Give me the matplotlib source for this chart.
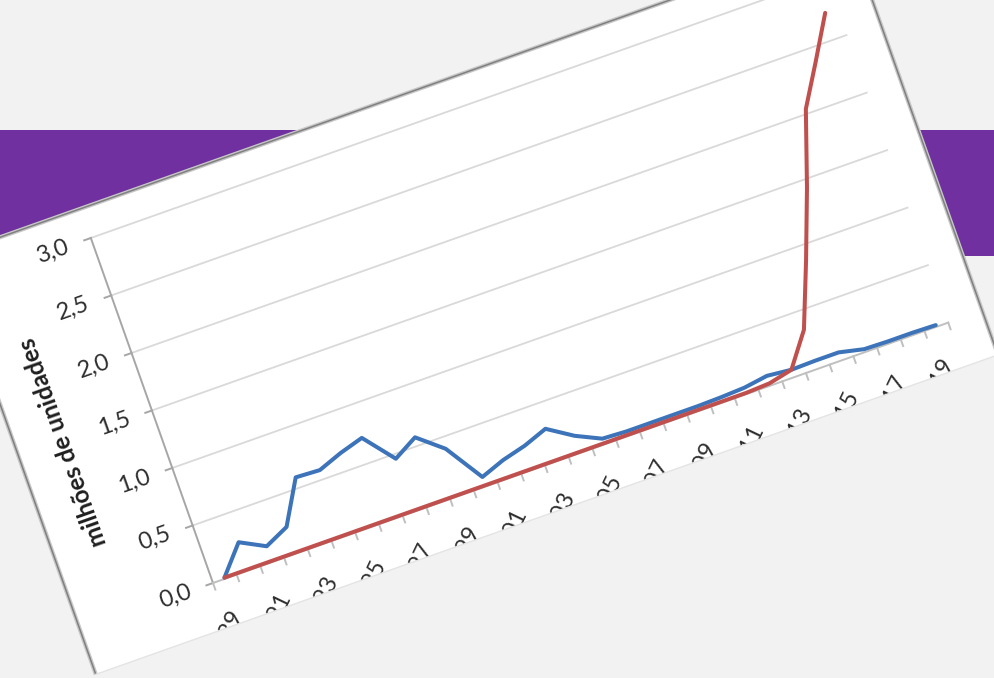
"""
Rotated line chart on a slide: 'milhões de unidades', 1989-2019.

The chart panel is tilted ~19.5 deg on the slide, so everything is drawn
in the chart frame and pushed through one Affine2D onto a pixel axes.
Output: out.png (994x678)
"""
import matplotlib

matplotlib.use("Agg")
import matplotlib.pyplot as plt
import numpy as np
from matplotlib.patches import Polygon, Rectangle
from matplotlib.transforms import Affine2D

plt.rcParams["font.family"] = ["Lato", "DejaVu Sans"]

# --------------------------------------------------------------------------- #
# Data (chart frame)
# --------------------------------------------------------------------------- #
years = list(range(1989, 2020))
blue = [0.01, 0.245, 0.137, 0.232, 0.59, 0.58, 0.655, 0.714, 0.46, 0.573,
        0.40, 0.082, 0.156, 0.208, 0.282, 0.148, 0.05, 0.04, 0.04, 0.04,
        0.04, 0.045, 0.055, 0.085, 0.065, 0.07, 0.07, 0.025, 0.02, 0.02,
        0.015]
red = [0.01, 0.01, 0.01, 0.01, 0.01, 0.01, 0.01, 0.01, 0.01, 0.01,
       0.01, 0.01, 0.01, 0.01, 0.01, 0.01, 0.01, 0.01, 0.01, 0.01,
       0.01, 0.01, 0.01, 0.02, 0.065, 0.34, 0.87, 1.43, 2.04, 2.38,
       2.73]
y_ticks = [0.0, 0.5, 1.0, 1.5, 2.0, 2.5, 3.0]
y_tick_labels = ["0,0", "0,5", "1,0", "1,5", "2,0", "2,5", "3,0"]
y_title = "milhões de unidades"

# --------------------------------------------------------------------------- #
# Geometry of the tilted panel (pixels)
# --------------------------------------------------------------------------- #
W, H = 994, 678
OX, OY = 213, 583          # where the two axes meet
THETA = 19.5               # tilt of the chart, degrees ccw
CAT_W = 25.16              # px per category
UNIT_PX = 122.0            # px per 1.0 on the value axis
PANEL = (-141, 816, -47, 397)  # s0, s1, t0, t1 in chart-frame px

BG = "#f2f2f2"
BLUE = "#3d74b9"
RED = "#c0504d"
GRID = "#d9d9d9"
AXIS = "#a6a6a6"
TEXT = "#2e2e2e"

fig = plt.figure(figsize=(W / 100, H / 100), dpi=100)
fig.patch.set_facecolor(BG)
ax = fig.add_axes([0, 0, 1, 1])
ax.set_xlim(0, W)
ax.set_ylim(H, 0)
ax.axis("off")

# slide decoration: purple band behind the panel
ax.add_patch(Rectangle((0, 130), W, 126, facecolor="#7030a0",
                       edgecolor="none", zorder=0))

# chart frame (s, t in px, t up) -> image px ; data (cat, value) -> same
px = Affine2D().scale(1, -1).rotate_deg(-THETA).translate(OX, OY) + ax.transData
chart = Affine2D().scale(CAT_W, UNIT_PX) + px

s0, s1, t0, t1 = PANEL
panel = Polygon([(s0, t0), (s1, t0), (s1, t1), (s0, t1)], closed=True,
                facecolor="white", edgecolor="none", transform=px, zorder=1)
ax.add_patch(panel)
# soft shadow / border on left, top and right edges
edge = [(s0, t0), (s0, t1), (s1, t1), (s1, t0)]
es, et = zip(*edge)
ax.plot(es, et, transform=px, color="#c8c8c8", lw=3.0, zorder=1.5,
        solid_joinstyle="miter")
ax.plot(es, et, transform=px, color="#808080", lw=1.1, zorder=1.6,
        solid_joinstyle="miter")

n = len(years)
x = np.arange(n) + 0.5

# gridlines
for v in y_ticks[1:]:
    ax.plot([0, n], [v, v], transform=chart, color=GRID, lw=1.3, zorder=2)

# value axis + ticks + labels
ax.plot([0, 0], [0, y_ticks[-1]], transform=chart, color=AXIS, lw=1.4, zorder=3)
for v, lab in zip(y_ticks, y_tick_labels):
    t = v * UNIT_PX
    ax.plot([-7, 0], [t, t], transform=px, color=AXIS, lw=1.4, zorder=3)
    ax.text(-40, t, lab, transform=px, rotation=THETA, rotation_mode="anchor",
            ha="center", va="center", fontsize=17, color=TEXT, zorder=4)

ax.text(-94, 1.5 * UNIT_PX, y_title, transform=px, rotation=90 + THETA,
        rotation_mode="anchor", ha="center", va="center", fontsize=17.5,
        fontweight="bold", color="#1f1f1f", zorder=4)

# category axis + ticks + labels
ax.plot([0, n], [0, 0], transform=chart, color="#bfbfbf", lw=1.4, zorder=3)
for k in range(n + 1):
    ax.plot([k * CAT_W, k * CAT_W], [0, -7], transform=px, color="#bfbfbf",
            lw=1.4, zorder=3)
for k in range(0, n, 2):
    ax.text((k + 0.5) * CAT_W + 1, -34, str(years[k]), transform=px,
            rotation=45 + THETA, rotation_mode="anchor", ha="right",
            va="center", fontsize=17, color=TEXT, zorder=4)

# the slide crops the panel at its bottom edge: Agg ignores clip paths on
# text, so cover everything below that edge with the slide background
ax.add_patch(Polygon([(s0 - 600, t0), (s1 + 600, t0), (s1 + 600, t0 - 900),
                      (s0 - 600, t0 - 900)], closed=True, facecolor=BG,
                     edgecolor="none", transform=px, zorder=4.5))
ax.plot([s0, s1], [t0, t0], transform=px, color="#e4e4e4", lw=1.0,
        zorder=4.6)

# series
ax.plot(x, blue, transform=chart, color=BLUE, lw=2.9, zorder=5,
        solid_joinstyle="round", solid_capstyle="round")
ax.plot(x, red, transform=chart, color=RED, lw=2.9, zorder=6,
        solid_joinstyle="round", solid_capstyle="round")

fig.savefig("out.png", dpi=100)
